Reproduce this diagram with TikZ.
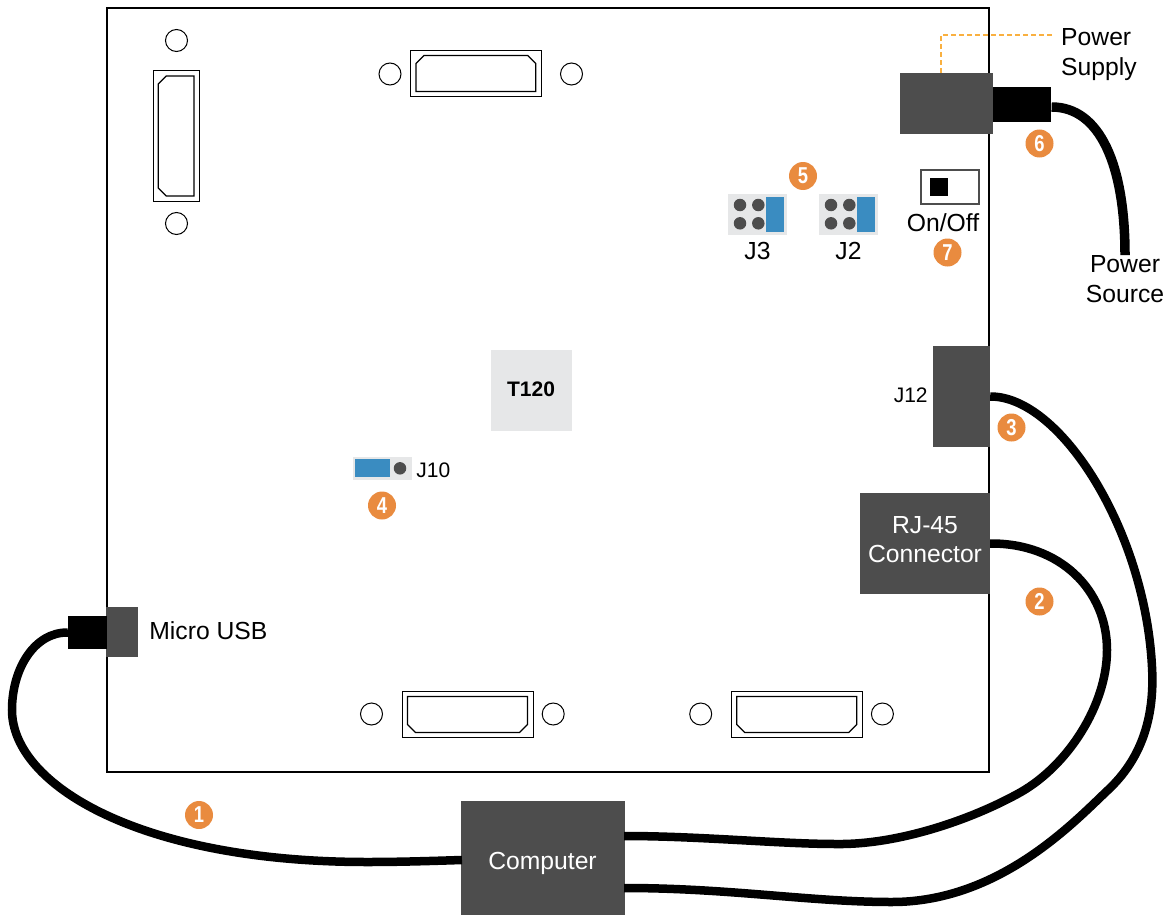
\documentclass[tikz,border=0pt]{standalone}
\usepackage{fontspec}
\setmainfont{Liberation Sans}
\newfontfamily\badgefont[FakeStretch=0.8]{Liberation Sans}
\usepackage{xcolor}
\usepackage{tikz}
\usetikzlibrary{positioning,calc}
\definecolor{boxgray}{HTML}{4D4D4D}
\definecolor{padgray}{HTML}{E6E7E8}
\definecolor{jumpblue}{HTML}{3A8CC1}
\definecolor{badgeorange}{HTML}{E98B3F}
\definecolor{leadorange}{HTML}{F9B040}
\tikzset{
  darkbox/.style={rectangle, fill=boxgray, inner sep=0pt},
  plug/.style={rectangle, fill=black, inner sep=0pt},
  pad/.style={rectangle, fill=padgray, inner sep=0pt},
  jumper/.style={rectangle, fill=jumpblue, inner sep=0pt},
  pin/.style={circle, fill=boxgray, inner sep=0pt, minimum size=12.5pt},
  hole/.style={circle, draw=black, line width=1pt, fill=white, inner sep=0pt, minimum size=22pt},
  shell/.style={rectangle, draw=black, line width=1pt, inner sep=0pt},
  inshell/.style={draw=black, line width=1.2pt},
  badge/.style={circle, fill=badgeorange, text=white, inner sep=0pt, minimum size=28pt,
                font=\fontsize{23}{23}\badgefont\bfseries},
  cable/.style={draw=black, line width=8.5pt},
  lbl/.style={inner sep=0pt, align=center, font=\fontsize{24.7}{30}\selectfont},
  wlbl/.style={inner sep=0pt, align=center, text=white, font=\fontsize{24.7}{28.5}\selectfont},
  slbl/.style={inner sep=0pt, font=\fontsize{21}{25}\selectfont}
}
\begin{document}
\begin{tikzpicture}[x=1pt, y=-1pt]
\useasboundingbox (0,0) rectangle (1167,915);
% ---- board ----
\node[rectangle, draw=black, line width=2pt, inner sep=0pt, minimum width=882pt, minimum height=764pt] (board) at (548,390) {};
% ---- display connectors ----
\node[shell, minimum width=46pt, minimum height=131pt] (dp1) at (176.4,136) {};
\draw[inshell] (166.3,76) -- (194,76) -- (194,196) -- (166.3,196) -- (158.3,188) -- (158.3,84) -- cycle;
\node[hole] (h1a) at (176.5,40.5) {};
\node[hole, below=160pt of h1a] (h1b) {};
\node[shell, minimum width=131pt, minimum height=46pt] (dp2) at (476,74) {};
\draw[inshell] (424,55.5) -- (527.7,55.5) -- (535.7,63.5) -- (535.7,91.5) -- (416,91.5) -- (416,63.5) -- cycle;
\node[hole] (h2a) at (390,74) {};
\node[hole] (h2b) at (571.5,74) {};
\foreach \n/\cx in {3/467.5, 4/796.7} {
  \node[shell, minimum width=131pt, minimum height=46pt] (dp\n) at (\cx,714) {};
  \draw[inshell] (\cx-60,696.5) -- (\cx+60,696.5) -- (\cx+60,724.5) -- (\cx+52,732.5) -- (\cx-52,732.5) -- (\cx-60,724.5) -- cycle;
  \node[hole] (h\n a) at (\cx-96,714) {};
  \node[hole] (h\n b) at (\cx+85.7,714) {};
}
% ---- power supply ----
\node[darkbox, minimum width=93pt, minimum height=61pt] (ps) at (946.5,103.5) {};
\node[plug, minimum width=58pt, minimum height=35pt, right=0pt of ps.east, yshift=-1pt] (psplug) {};
\node[lbl, align=left, anchor=west] (pslbl) at (1061,55) {Power\\Supply};
\coordinate (pscorner) at (941,35);
\draw[leadorange, line width=2.5pt, dash pattern=on 5pt off 3pt] (ps.north -| pscorner) -- (pscorner) -- (1052,35);
\node[lbl] (srclbl) at (1125,279) {Power\\Source};
\draw[cable, line width=9.5pt] ([yshift=-2.5pt]psplug.east) .. controls (1100,107) and (1125,165) .. (srclbl.north);
% ---- jumpers J3, J2 ----
\foreach \n/\cx in {3/757.5, 2/848.5} {
  \node[pad, minimum width=59pt, minimum height=41pt] (pad\n) at (\cx,214.5) {};
  \node[jumper, minimum width=18pt, minimum height=35pt] (jmp\n) at (\cx+17.5,214.5) {};
  \foreach \i/\px/\py in {a/-17.5/205, b/0.8/205, c/-17.5/223.3, d/0.8/223.3}
    \node[pin] (pin\n\i) at (\cx+\px,\py) {};
  \node[lbl, below=7pt of pad\n] (j\n) {J\n};
}
% ---- on/off switch ----
\node[rectangle, draw=boxgray, line width=2pt, fill=white, inner sep=0pt, minimum width=58pt, minimum height=34pt] (sw) at (949.5,186.5) {};
\node[plug, minimum size=18pt] (swk) at (939,187) {};
\node[lbl] (swlbl) at (943,223) {On/Off};
% ---- T120 and J10 ----
\node[pad, minimum size=81pt] (fpga) at (531.5,390.5) {};
\node[inner sep=0pt, font=\fontsize{21}{25}\selectfont\bfseries] (fpgalbl) at (531,389) {T120};
\node[pad, minimum width=59pt, minimum height=23pt] (pad10) at (382.5,468.5) {};
\node[jumper, minimum width=35pt, minimum height=18pt] (jmp10) at (372.5,468) {};
\node[pin] (pin10) at (400,468.3) {};
\node[slbl, right=4pt of pad10, yshift=-1.5pt] (j10) {J10};
% ---- J12, RJ-45, micro USB ----
\node[darkbox, minimum width=57pt, minimum height=101pt] (j12) at (961.5,396.5) {};
\node[slbl, left=5pt of j12, yshift=1pt] (j12lbl) {J12};
\node[darkbox, minimum width=130pt, minimum height=101pt] (rj) at (925,543.5) {};
\node[wlbl] (rjlbl) at (925,539.5) {RJ-45\\Connector};
\node[darkbox, minimum width=32pt, minimum height=50pt] (usb) at (122,632) {};
\node[plug, minimum width=39pt, minimum height=33pt] (usbplug) at (87.5,632.5) {};
\node[lbl, right=11pt of usb, yshift=1pt] (usblbl) {Micro USB};
% ---- computer ----
\node[darkbox, minimum width=164pt, minimum height=114pt] (pc) at (543,858) {};
\node[wlbl] (pclbl) at (542.5,863) {Computer};
\coordinate (pcusb) at (462,860);
\coordinate (pcrj) at (624,836);
\coordinate (pcj) at (624,888);
% ---- cables ----
\draw[cable] (usbplug.west) .. controls (35,632) and (12,668) .. (12,710)
  .. controls (12,785) and (140,862) .. (367,862)
  .. controls (400,862) and (430,861) .. (pcusb);
\draw[cable] (rj.east) .. controls (1060,543) and (1107,590) .. (1107,650)
  .. controls (1107,705) and (1068,765) .. (1021,792)
  .. controls (975,818) and (900,845) .. (836,844)
  .. controls (780,844) and (700,836) .. (pcrj);
\draw[cable] (j12.east) .. controls (1060,396) and (1145,530) .. (1152,667)
  .. controls (1155,720) and (1140,760) .. (1108,790)
  .. controls (1075,821) and (1000,902) .. (892,902)
  .. controls (810,902) and (730,888) .. (pcj);
% ---- badges ----
\foreach \n/\bx/\by in {1/199/815, 2/1039.5/601.5, 3/1011.5/427.5, 4/382/505.5, 5/803/176, 6/1039.5/143.5, 7/947.5/252.5}
  \node[badge] (b\n) at (\bx,\by) {\n};
\end{tikzpicture}
\end{document}
